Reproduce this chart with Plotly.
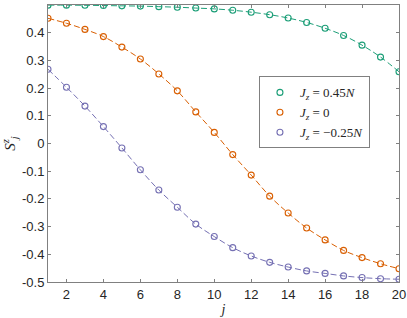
import plotly.graph_objects as go

j = list(range(1, 21))
s_045 = [0.4995, 0.4995, 0.499, 0.498, 0.497, 0.496, 0.494, 0.492, 0.489, 0.486,
         0.481, 0.474, 0.465, 0.453, 0.437, 0.416, 0.390, 0.355, 0.312, 0.259]
s_0 = [0.452, 0.434, 0.412, 0.386, 0.348, 0.305, 0.251, 0.190, 0.114, 0.040,
       -0.040, -0.114, -0.190, -0.251, -0.305, -0.348, -0.386, -0.412, -0.434, -0.452]
s_m025 = [0.268, 0.203, 0.135, 0.061, -0.016, -0.095, -0.168, -0.230, -0.291, -0.336,
          -0.376, -0.406, -0.429, -0.446, -0.460, -0.469, -0.478, -0.484, -0.488, -0.490]
names = ["<i>J<sub>z</sub></i> = 0.45<i>N</i>", "<i>J<sub>z</sub></i> = 0",
         "<i>J<sub>z</sub></i> = −0.25<i>N</i>"]
colors = ["#1b9e77", "#d95f02", "#7570b3"]
xticks = list(range(2, 21, 2))
yticks = [-0.5, -0.4, -0.3, -0.2, -0.1, 0, 0.1, 0.2, 0.3, 0.4, 0.5]
yticktext = ["-0.5", "-0.4", "-0.3", "-0.2", "-0.1", "0", "0.1", "0.2", "0.3", "0.4", "0.5"]

fig = go.Figure()
for ys, c in zip([s_045, s_0, s_m025], colors):
    fig.add_trace(go.Scatter(x=j, y=ys, mode="lines", line=dict(color=c, width=1, dash="6px,3px", shape="spline"),
                             showlegend=False, hoverinfo="skip"))
for ys, c, n in zip([s_045, s_0, s_m025], colors, names):
    fig.add_trace(go.Scatter(x=j, y=ys, mode="markers", name=n,
                             marker=dict(symbol="circle-open", size=6, color=c, line=dict(width=1.1, color=c))))

axis_common = dict(showline=True, linecolor="#808080", linewidth=1, mirror="ticks", ticks="inside",
                   ticklen=3, tickcolor="#808080", showgrid=False, zeroline=False, automargin=False,
                   tickfont=dict(family="Liberation Sans, Arial", size=13, color="#262626"))
fig.update_xaxes(range=[1, 20], tickvals=xticks,
                 title=dict(text="<i>j</i>", font=dict(family="Liberation Serif, serif", size=14, color="#262626"), standoff=0),
                 **axis_common)
fig.update_yaxes(range=[-0.5, 0.5], tickvals=yticks, ticktext=yticktext,
                 title=dict(text="<i>S<sup>z</sup><sub>j</sub></i>", font=dict(family="Liberation Serif, serif", size=15, color="#262626"), standoff=4),
                 **axis_common)
fig.update_layout(width=407, height=318, margin=dict(l=48, r=8, t=5, b=36),
                  plot_bgcolor="white", paper_bgcolor="white",
                  legend=dict(x=0.601, y=0.742, xanchor="left", yanchor="top", bgcolor="white",
                              bordercolor="#808080", borderwidth=1,
                              font=dict(family="Liberation Serif, serif", size=13, color="#262626"),
                              itemwidth=30, tracegroupgap=0))
fig.write_html("out.html", config={"displayModeBar": False},
               post_script="document.body.style.margin='0';document.body.style.padding='0';")
